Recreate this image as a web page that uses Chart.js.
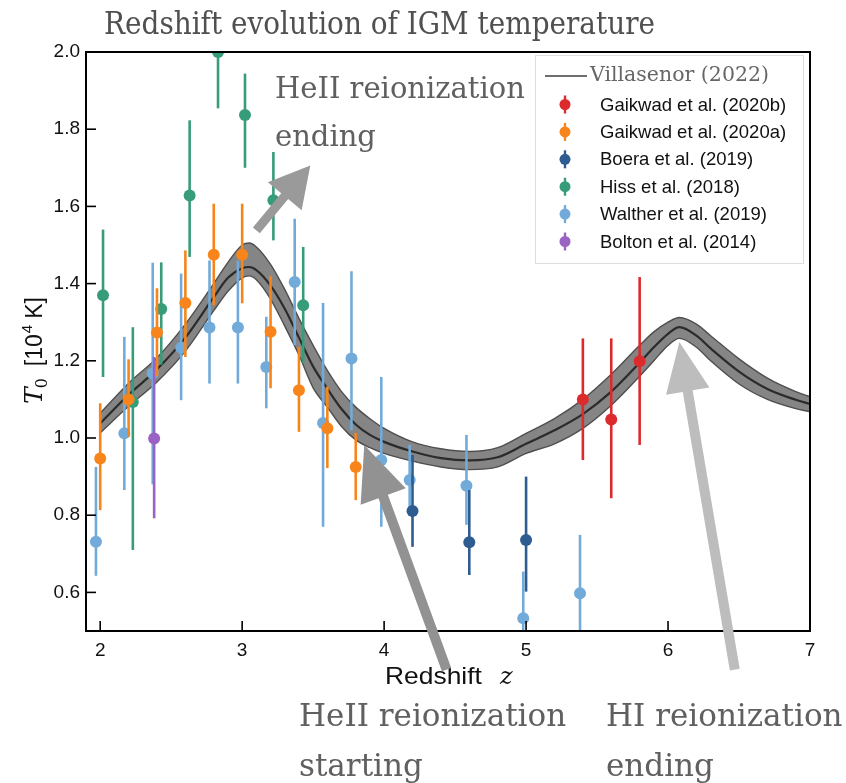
<!DOCTYPE html>
<html>
<head>
<meta charset="utf-8">
<script src="https://cdn.jsdelivr.net/npm/chart.js@4.4.1/dist/chart.umd.min.js"></script>
<style>
  html, body { margin: 0; padding: 0; background: #ffffff; }
  canvas { display: block; }
</style>
</head>
<body>
<canvas id="c" width="846" height="783"></canvas>
<script>
// ---- Villasenor (2022) model: redshift grid, median T0 and band edges (10^4 K)
const modelZ    = [2.00, 2.20, 2.40, 2.60, 2.80, 2.90, 3.00, 3.05, 3.10, 3.20, 3.30, 3.40, 3.50, 3.60, 3.70, 3.80, 3.90, 4.00, 4.20, 4.40, 4.60, 4.80, 5.00, 5.20, 5.40, 5.60, 5.80, 5.90, 6.00, 6.08, 6.20, 6.30, 6.50, 6.70, 6.90, 7.00];
const modelMid  = [1.038, 1.112, 1.178, 1.260, 1.365, 1.415, 1.440, 1.443, 1.435, 1.395, 1.335, 1.260, 1.185, 1.128, 1.075, 1.035, 1.008, 0.990, 0.965, 0.948, 0.942, 0.950, 0.985, 1.020, 1.062, 1.120, 1.195, 1.235, 1.270, 1.287, 1.265, 1.232, 1.172, 1.127, 1.099, 1.088];
const modelLow  = [1.013, 1.082, 1.145, 1.225, 1.330, 1.380, 1.415, 1.420, 1.410, 1.360, 1.290, 1.215, 1.130, 1.080, 1.030, 0.995, 0.975, 0.960, 0.940, 0.925, 0.918, 0.925, 0.960, 0.985, 1.025, 1.085, 1.160, 1.200, 1.240, 1.258, 1.235, 1.200, 1.140, 1.100, 1.076, 1.068];
const modelHigh = [1.064, 1.142, 1.208, 1.295, 1.400, 1.455, 1.500, 1.505, 1.495, 1.450, 1.385, 1.310, 1.240, 1.175, 1.120, 1.080, 1.050, 1.025, 0.990, 0.972, 0.965, 0.975, 1.012, 1.050, 1.100, 1.165, 1.240, 1.275, 1.300, 1.312, 1.295, 1.265, 1.205, 1.155, 1.120, 1.107];

// ---- measurements: redshift, T0 and error-bar ends (10^4 K)
const gaikwadBZ  = [5.40, 5.60, 5.80];
const gaikwadBT  = [1.100, 1.048, 1.199];
const gaikwadBLo = [0.943, 0.844, 0.982];
const gaikwadBHi = [1.258, 1.258, 1.417];

const gaikwadAZ  = [2.00, 2.20, 2.40, 2.60, 2.80, 3.00, 3.20, 3.40, 3.60, 3.80];
const gaikwadAT  = [0.947, 1.100, 1.273, 1.350, 1.475, 1.475, 1.275, 1.124, 1.025, 0.925];
const gaikwadALo = [0.813, 1.003, 1.160, 1.210, 1.344, 1.349, 1.129, 1.016, 0.922, 0.839];
const gaikwadAHi = [1.090, 1.204, 1.388, 1.486, 1.607, 1.607, 1.420, 1.236, 1.133, 1.013];

const boeraZ  = [4.20, 4.60, 5.00];
const boeraT  = [0.811, 0.730, 0.736];
const boeraLo = [0.718, 0.645, 0.602];
const boeraHi = [0.956, 0.865, 0.900];

const hissZ  = [2.02, 2.23, 2.43, 2.63, 2.83, 3.02, 3.22, 3.43];
const hissT  = [1.370, 1.093, 1.334, 1.628, 2.000, 1.837, 1.616, 1.344];
const hissLo = [1.158, 0.710, 1.190, 1.469, 1.854, 1.700, 1.512, 1.194];
const hissHi = [1.540, 1.287, 1.455, 1.823, 2.146, 1.944, 1.741, 1.495];

const waltherZ  = [1.97, 2.17, 2.37, 2.57, 2.77, 2.97, 3.17, 3.37, 3.57, 3.77, 3.98, 4.18, 4.58, 4.98, 5.38];
const waltherT  = [0.731, 1.012, 1.167, 1.234, 1.286, 1.286, 1.184, 1.404, 1.039, 1.206, 0.943, 0.891, 0.876, 0.533, 0.598];
const waltherLo = [0.643, 0.865, 0.880, 1.098, 1.141, 1.141, 1.077, 1.240, 0.770, 1.020, 0.770, 0.800, 0.775, 0.410, 0.450];
const waltherHi = [0.925, 1.262, 1.454, 1.426, 1.460, 1.460, 1.314, 1.568, 1.350, 1.432, 1.158, 0.982, 1.008, 0.654, 0.749];

const boltonZ  = [2.38];
const boltonT  = [0.999];
const boltonLo = [0.792];
const boltonHi = [1.210];

// ---- axes
const xTicks = [2, 3, 4, 5, 6, 7];
const xTickLabels = ['2', '3', '4', '5', '6', '7'];
const yTicks = [0.6, 0.8, 1.0, 1.2, 1.4, 1.6, 1.8, 2.0];
const yTickLabels = ['0.6', '0.8', '1.0', '1.2', '1.4', '1.6', '1.8', '2.0'];

const seriesNames = ['Gaikwad et al. (2020b)', 'Gaikwad et al. (2020a)', 'Boera et al. (2019)',
                     'Hiss et al. (2018)', 'Walther et al. (2019)', 'Bolton et al. (2014)'];
const modelName = 'Villasenor (2022)';

const COLORS = ['#dd2a2c', '#f8851b', '#2e5c90', '#379c79', '#72abd9', '#9a62c3'];

const SANS = '"Liberation Sans", Arial, Helvetica, sans-serif';
const SERIF = '"DejaVu Serif", "Liberation Serif", serif';

function pts(zs, ts) { return zs.map((z, i) => ({ x: z, y: ts[i] })); }

function measurement(name, zs, ts, lo, hi, color) {
  return {
    type: 'scatter', label: name, data: pts(zs, ts),
    errLow: lo, errHigh: hi,
    backgroundColor: color, borderColor: color, borderWidth: 0,
    pointRadius: 6, pointHoverRadius: 6, clip: 0
  };
}

const datasets = [
  measurement(seriesNames[0], gaikwadBZ, gaikwadBT, gaikwadBLo, gaikwadBHi, COLORS[0]),
  measurement(seriesNames[1], gaikwadAZ, gaikwadAT, gaikwadALo, gaikwadAHi, COLORS[1]),
  measurement(seriesNames[2], boeraZ, boeraT, boeraLo, boeraHi, COLORS[2]),
  measurement(seriesNames[5], boltonZ, boltonT, boltonLo, boltonHi, COLORS[5]),
  measurement(seriesNames[4], waltherZ, waltherT, waltherLo, waltherHi, COLORS[4]),
  measurement(seriesNames[3], hissZ, hissT, hissLo, hissHi, COLORS[3]),
  {
    type: 'line', label: modelName, data: pts(modelZ, modelMid),
    borderColor: '#2b2b2b', borderWidth: 2.2, pointRadius: 0, fill: false,
    cubicInterpolationMode: 'monotone'
  },
  {
    type: 'line', label: modelName + ' upper', data: pts(modelZ, modelHigh),
    borderColor: '#4f4f4f', borderWidth: 1.4, pointRadius: 0,
    backgroundColor: '#858585', fill: '+1',
    cubicInterpolationMode: 'monotone'
  },
  {
    type: 'line', label: modelName + ' lower', data: pts(modelZ, modelLow),
    borderColor: '#4f4f4f', borderWidth: 1.4, pointRadius: 0, fill: false,
    cubicInterpolationMode: 'monotone'
  }
];

// vertical error bars, drawn under each series' markers
const errorBars = {
  id: 'errorBars',
  beforeDatasetDraw(chart, args) {
    const ds = chart.data.datasets[args.index];
    if (!ds.errLow) return;
    const { ctx, chartArea: a, scales: { x, y } } = chart;
    ctx.save();
    ctx.beginPath();
    ctx.rect(a.left, a.top, a.right - a.left, a.bottom - a.top);
    ctx.clip();
    ctx.strokeStyle = ds.backgroundColor;
    ctx.lineWidth = 2.6;
    ds.data.forEach((p, i) => {
      const xx = x.getPixelForValue(p.x);
      ctx.beginPath();
      ctx.moveTo(xx, y.getPixelForValue(ds.errLow[i]));
      ctx.lineTo(xx, y.getPixelForValue(ds.errHigh[i]));
      ctx.stroke();
    });
    ctx.restore();
  }
};

function arrow(ctx, x0, y0, x1, y1, shaft, headLen, headHalf, color) {
  const dx = x1 - x0, dy = y1 - y0, L = Math.hypot(dx, dy);
  const ux = dx / L, uy = dy / L, nx = -uy, ny = ux;
  const bx = x1 - ux * headLen, by = y1 - uy * headLen;
  ctx.save();
  ctx.fillStyle = color;
  ctx.beginPath();
  ctx.moveTo(x0 + nx * shaft / 2, y0 + ny * shaft / 2);
  ctx.lineTo(bx + nx * shaft / 2, by + ny * shaft / 2);
  ctx.lineTo(bx + nx * headHalf, by + ny * headHalf);
  ctx.lineTo(x1, y1);
  ctx.lineTo(bx - nx * headHalf, by - ny * headHalf);
  ctx.lineTo(bx - nx * shaft / 2, by - ny * shaft / 2);
  ctx.lineTo(x0 - nx * shaft / 2, y0 - ny * shaft / 2);
  ctx.closePath();
  ctx.fill();
  ctx.restore();
}

// text with a horizontal stretch factor
function stretchedText(ctx, text, x, y, sx) {
  ctx.save();
  ctx.translate(x, y);
  ctx.scale(sx, 1);
  ctx.fillText(text, 0, 0);
  ctx.restore();
}

// frame, inward ticks, axis titles, legend and annotations
const decorations = {
  id: 'decorations',
  afterDraw(chart) {
    const { ctx, chartArea: a, scales: { x, y } } = chart;
    ctx.save();

    // frame
    ctx.strokeStyle = '#000';
    ctx.lineWidth = 2;
    ctx.strokeRect(a.left, a.top, a.right - a.left, a.bottom - a.top);
    // inward ticks
    ctx.lineWidth = 1.6;
    yTicks.forEach(v => {
      const yy = y.getPixelForValue(v);
      ctx.beginPath(); ctx.moveTo(a.left, yy); ctx.lineTo(a.left + 10, yy); ctx.stroke();
    });
    xTicks.forEach(v => {
      const xx = x.getPixelForValue(v);
      ctx.beginPath(); ctx.moveTo(xx, a.bottom); ctx.lineTo(xx, a.bottom - 10); ctx.stroke();
    });

    // x axis title: Redshift z
    ctx.fillStyle = '#111';
    ctx.textBaseline = 'alphabetic';
    ctx.textAlign = 'left';
    ctx.font = '24px ' + SANS;
    stretchedText(ctx, 'Redshift', 385, 684, 1.1);
    ctx.font = 'italic 24px ' + SERIF;
    ctx.fillText('z', 500, 684);

    // y axis title: T0 [10^4 K], rotated
    ctx.save();
    ctx.translate(42, 404);
    ctx.rotate(-Math.PI / 2);
    let cx = 0;
    ctx.font = 'italic 25px ' + SERIF;
    ctx.fillText('T', cx, 0); cx += ctx.measureText('T').width - 1;
    ctx.font = '16px ' + SERIF;
    ctx.fillText('0', cx, 5); cx += ctx.measureText('0').width + 12;
    ctx.font = '23px ' + SANS;
    ctx.fillText('[10', cx, 0); cx += ctx.measureText('[10').width + 1;
    ctx.font = '15px ' + SANS;
    ctx.fillText('4', cx, -10); cx += ctx.measureText('4').width + 6;
    ctx.font = '23px ' + SANS;
    ctx.fillText('K]', cx, 0);
    ctx.restore();

    // legend
    ctx.strokeStyle = '#dedede';
    ctx.lineWidth = 1;
    ctx.strokeRect(535.5, 55.5, 268, 208);
    ctx.strokeStyle = '#6e6e6e';
    ctx.lineWidth = 2;
    ctx.beginPath(); ctx.moveTo(545, 76); ctx.lineTo(587, 76); ctx.stroke();
    ctx.fillStyle = '#666';
    ctx.textBaseline = 'middle';
    ctx.font = '20.5px ' + SERIF;
    ctx.fillText(modelName, 590, 76);
    ctx.font = '18.5px ' + SANS;
    seriesNames.forEach((name, i) => {
      const yy = 104.5 + i * 27.4;
      ctx.strokeStyle = COLORS[i];
      ctx.fillStyle = COLORS[i];
      ctx.lineWidth = 2.4;
      ctx.beginPath(); ctx.moveTo(565, yy - 9); ctx.lineTo(565, yy + 9); ctx.stroke();
      ctx.beginPath(); ctx.arc(565, yy, 5.5, 0, Math.PI * 2); ctx.fill();
      ctx.fillStyle = '#111';
      ctx.fillText(name, 600, yy + 1);
    });

    // annotation arrows (positions in redshift / temperature units)
    const P = (z, t) => [x.getPixelForValue(z), y.getPixelForValue(t)];
    let t0 = P(3.10, 1.538), t1 = P(3.48, 1.706);
    arrow(ctx, t0[0], t0[1], t1[0], t1[1], 9, 40, 22, '#9a9a9a');
    t0 = P(4.44, 0.40); t1 = P(3.86, 0.982);
    arrow(ctx, t0[0], t0[1], t1[0], t1[1], 10, 55, 24, '#929292');
    t0 = P(6.47, 0.40); t1 = P(6.08, 1.249);
    arrow(ctx, t0[0], t0[1], t1[0], t1[1], 10, 50, 22, '#bdbdbd');

    // annotation texts
    ctx.textBaseline = 'alphabetic';
    ctx.fillStyle = '#606060';
    ctx.font = '29px ' + SERIF;
    ctx.fillText('HeII reionization', 275, 98);
    ctx.fillText('ending', 275, 146);
    ctx.font = '31px ' + SERIF;
    ctx.fillText('HeII reionization', 299, 726);
    ctx.fillText('starting', 299, 776);
    ctx.fillText('HI reionization', 606, 726);
    ctx.fillText('ending', 606, 776);

    // title
    ctx.fillStyle = '#505050';
    ctx.font = '31px ' + SERIF;
    stretchedText(ctx, 'Redshift evolution of IGM temperature', 104, 34, 0.9);

    ctx.restore();
  }
};

new Chart(document.getElementById('c'), {
  type: 'scatter',
  data: { datasets },
  plugins: [errorBars, decorations],
  options: {
    responsive: false,
    animation: false,
    devicePixelRatio: 1,
    layout: { padding: { left: 0, right: 36, top: 52, bottom: 92 } },
    plugins: {
      legend: { display: false },
      tooltip: { enabled: false },
      title: { display: false },
      filler: { drawTime: 'beforeDatasetsDraw' }
    },
    scales: {
      x: {
        type: 'linear', min: 1.9, max: 7,
        afterFit(s) { s.height = 60; },
        afterBuildTicks(s) { s.ticks = xTicks.map(v => ({ value: v })); },
        grid: { display: false, drawTicks: false },
        border: { display: false },
        ticks: {
          padding: 8, color: '#111',
          font: { family: SANS, size: 19 },
          callback: (v) => xTickLabels[xTicks.indexOf(v)] ?? ''
        }
      },
      y: {
        type: 'linear', min: 0.5, max: 2.0,
        afterFit(s) { s.width = 86; },
        afterBuildTicks(s) { s.ticks = yTicks.map(v => ({ value: v })); },
        grid: { display: false, drawTicks: false },
        border: { display: false },
        ticks: {
          padding: 6, color: '#111',
          font: { family: SANS, size: 19 },
          callback: (v) => {
            const i = yTicks.findIndex(t => Math.abs(t - v) < 1e-9);
            return i >= 0 ? yTickLabels[i] : '';
          }
        }
      }
    }
  }
});
</script>
</body>
</html>
